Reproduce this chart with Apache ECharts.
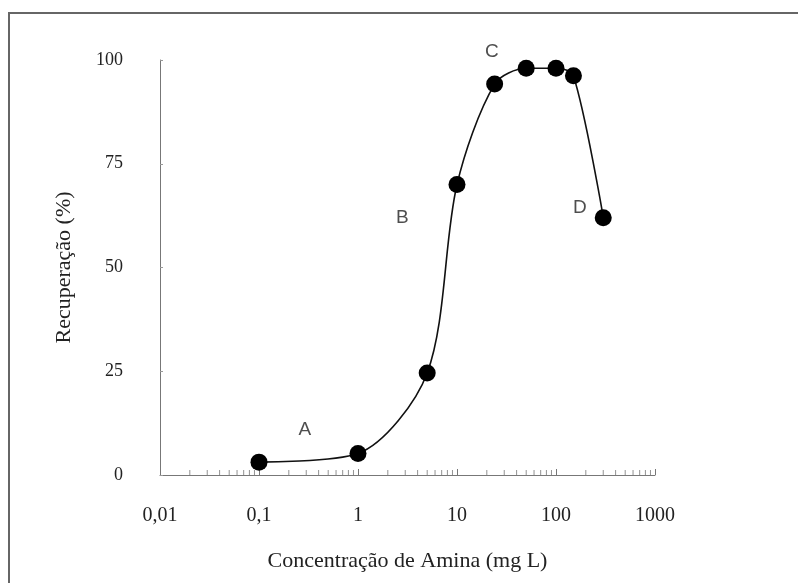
<!DOCTYPE html>
<html>
<head>
<meta charset="utf-8">
<script src="https://cdn.jsdelivr.net/npm/echarts@6/dist/echarts.min.js"></script>
<style>
  html, body { margin: 0; padding: 0; background: #fff; }
  #frame { position: absolute; left: 8px; top: 12px; width: 790px; height: 571px;
           border-left: 2px solid #666; border-top: 2px solid #666; }
  #chart { position: absolute; left: 0; top: 0; width: 798px; height: 583px; }
</style>
</head>
<body>
<div id="frame"></div>
<div id="chart"></div>
<script>
// concentração (mg/L) e recuperação (%)
const concentracao = [0.1, 1, 5, 10, 24, 50, 100, 150, 300];
const recuperacao = [3.1, 5.2, 24.6, 70, 94.2, 98, 98, 96.2, 62];

// letras das regiões
const regioes = ["A", "B", "C", "D"];
const regiaoX = [0.29, 2.8, 22.5, 174];
const regiaoY = [11, 62, 102, 64.5];

// marcas menores do eixo log
const decadas = [0.01, 0.1, 1, 10, 100];
const multiplos = [2, 3, 4, 5, 6, 7, 8, 9];

const serif = "'Liberation Serif', 'DejaVu Serif', serif";
const sans = "'Liberation Sans', Arial, sans-serif";

const chart = echarts.init(document.getElementById("chart"));

const minorTicks = [];
decadas.forEach((d) => multiplos.forEach((m) => minorTicks.push([d * m, 0])));

const option = {
  backgroundColor: "transparent",
  animation: false,
  grid: { left: 160, right: 143, top: 60, bottom: 108 },
  xAxis: {
    type: "log",
    logBase: 10,
    min: 0.01,
    max: 1000,
    name: "Concentração de Amina (mg L)",
    nameLocation: "middle",
    nameGap: 75,
    nameTextStyle: { fontFamily: serif, fontSize: 22, color: "#222" },
    axisLine: { lineStyle: { color: "#777", width: 1 } },
    axisTick: { inside: true, length: 6, lineStyle: { color: "#777" } },
    splitLine: { show: false },
    axisLabel: {
      margin: 31,
      fontFamily: serif,
      fontSize: 20,
      color: "#222",
      formatter: (v) => String(Number(v.toPrecision(3))).replace(".", ","),
    },
  },
  yAxis: {
    type: "value",
    min: 0,
    max: 100,
    interval: 25,
    name: "Recuperação (%)",
    nameLocation: "middle",
    nameGap: 85,
    nameTextStyle: { fontFamily: serif, fontSize: 22, color: "#222" },
    axisLine: { show: true, lineStyle: { color: "#777", width: 1 } },
    axisTick: { show: true, inside: true, length: 3, lineStyle: { color: "#999" } },
    splitLine: { show: false },
    axisLabel: { margin: 37, fontFamily: serif, fontSize: 18, color: "#222" },
  },
  series: [
    {
      type: "scatter",
      silent: true,
      data: minorTicks,
      symbol: "rect",
      symbolSize: [1, 5],
      symbolOffset: [0, -2.5],
      itemStyle: { color: "#777" },
      z: 1,
    },
    {
      type: "line",
      data: concentracao.map((c, i) => [c, recuperacao[i]]),
      smooth: 0.3,
      symbol: "circle",
      symbolSize: 17,
      showAllSymbol: true,
      clip: false,
      lineStyle: { color: "#111", width: 1.6 },
      itemStyle: { color: "#000" },
      z: 3,
    },
    {
      type: "scatter",
      silent: true,
      clip: false,
      data: regioes.map((r, i) => [regiaoX[i], regiaoY[i], r]),
      symbolSize: 1,
      itemStyle: { color: "transparent" },
      label: {
        show: true,
        position: "inside",
        formatter: (p) => p.data[2],
        fontFamily: sans,
        fontSize: 19,
        color: "#222",
      },
      z: 4,
    },
  ],
};

chart.setOption(option);
</script>
</body>
</html>
